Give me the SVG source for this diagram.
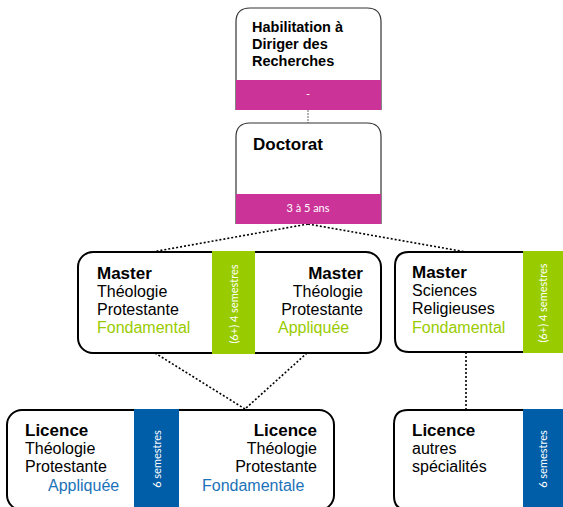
<svg xmlns="http://www.w3.org/2000/svg" width="563" height="507" viewBox="0 0 563 507">
<style>
.box{fill:#fff;stroke:#000;stroke-width:2}
.thin{fill:#fff;stroke:#333;stroke-width:1.2}
.pink{fill:#CC3399}
.green{fill:#99CC00}
.blue{fill:#005DA8}
.h{font-family:"Liberation Sans",Arial,sans-serif;font-weight:bold;font-size:17px;fill:#000}
.t{font-family:"Liberation Sans",Arial,sans-serif;font-size:16px;fill:#000}
.gt{fill:#99CC00}
.bt{fill:#1C72B8}
.band{font-family:Lato,"Open Sans",sans-serif;font-size:11px;fill:#fff;text-anchor:middle}
.dot{fill:none;stroke:#000;stroke-width:1.6;stroke-dasharray:2 2}
</style>
<g id="connectors">
<line x1="308" y1="110" x2="308" y2="123" stroke="#666" stroke-width="1" stroke-dasharray="2 1"/>
<path class="dot" d="M308,224 L152,252"/>
<path class="dot" d="M308,224 L466,252"/>
<path class="dot" d="M155,353 L245,409"/>
<path class="dot" d="M307,353 L245,409"/>
<path class="dot" d="M466,352 L466,410"/>
</g>
<g id="hdr">
<path class="thin" d="M236,110 V22 Q236,8 250,8 H367 Q381,8 381,22 V110"/>
<rect class="pink" x="236" y="80" width="145" height="30"/>
<text class="h" style="font-size:14.5px"><tspan x="252" y="32">Habilitation à</tspan><tspan x="252" y="49">Diriger des</tspan><tspan x="252" y="66">Recherches</tspan></text>
<text class="band" x="308" y="98">-</text>
</g>
<g id="doctorat">
<path class="thin" d="M236,224 V137 Q236,123 250,123 H367 Q381,123 381,137 V224"/>
<rect class="pink" x="236" y="194" width="145" height="30"/>
<text class="h" x="253" y="150">Doctorat</text>
<text class="band" x="308" y="212">3 à 5 ans</text>
</g>
<g id="master-theo">
<rect class="box" x="78" y="252" width="303" height="101" rx="15"/>
<rect class="green" x="212" y="251" width="43" height="103"/>
<text class="band" transform="translate(237.5,304) rotate(-90)">(6+) 4 semestres</text>
<text class="h" x="97" y="279">Master</text>
<text class="t"><tspan x="97" y="297">Théologie</tspan><tspan x="97" y="315">Protestante</tspan><tspan class="gt" x="97" y="333">Fondamental</tspan></text>
<text class="h" x="363" y="279" text-anchor="end">Master</text>
<text class="t" text-anchor="end"><tspan x="363" y="297">Théologie</tspan><tspan x="363" y="315">Protestante</tspan></text>
<text class="t gt" x="278" y="333">Appliquée</text>
</g>
<g id="master-sr">
<path class="box" d="M523,252 H409 Q395,252 395,266 V338 Q395,352 409,352 H523"/>
<rect class="green" x="523" y="251" width="40" height="102"/>
<text class="band" transform="translate(547,303) rotate(-90)">(6+) 4 semestres</text>
<text class="h" x="412" y="278">Master</text>
<text class="t"><tspan x="412" y="296">Sciences</tspan><tspan x="412" y="314">Religieuses</tspan><tspan class="gt" x="412" y="333">Fondamental</tspan></text>
</g>
<g id="licence-theo">
<rect class="box" x="7" y="410" width="327" height="100" rx="15"/>
<rect class="blue" x="134" y="409" width="45" height="102"/>
<text class="band" transform="translate(160.5,459) rotate(-90)">6 semestres</text>
<text class="h" x="25" y="436">Licence</text>
<text class="t"><tspan x="25" y="454">Théologie</tspan><tspan x="25" y="472">Protestante</tspan><tspan class="bt" x="48" y="491">Appliquée</tspan></text>
<text class="h" x="317" y="436" text-anchor="end">Licence</text>
<text class="t" text-anchor="end"><tspan x="317" y="454">Théologie</tspan><tspan x="317" y="472">Protestante</tspan></text>
<text class="t bt" x="202" y="491">Fondamentale</text>
</g>
<g id="licence-autres">
<path class="box" d="M523,410 H408 Q394,410 394,424 V496 Q394,510 408,510 H523"/>
<rect class="blue" x="523" y="409" width="40" height="102"/>
<text class="band" transform="translate(547,459) rotate(-90)">6 semestres</text>
<text class="h" x="412" y="436">Licence</text>
<text class="t"><tspan x="412" y="454">autres</tspan><tspan x="412" y="472">spécialités</tspan></text>
</g>
</svg>
